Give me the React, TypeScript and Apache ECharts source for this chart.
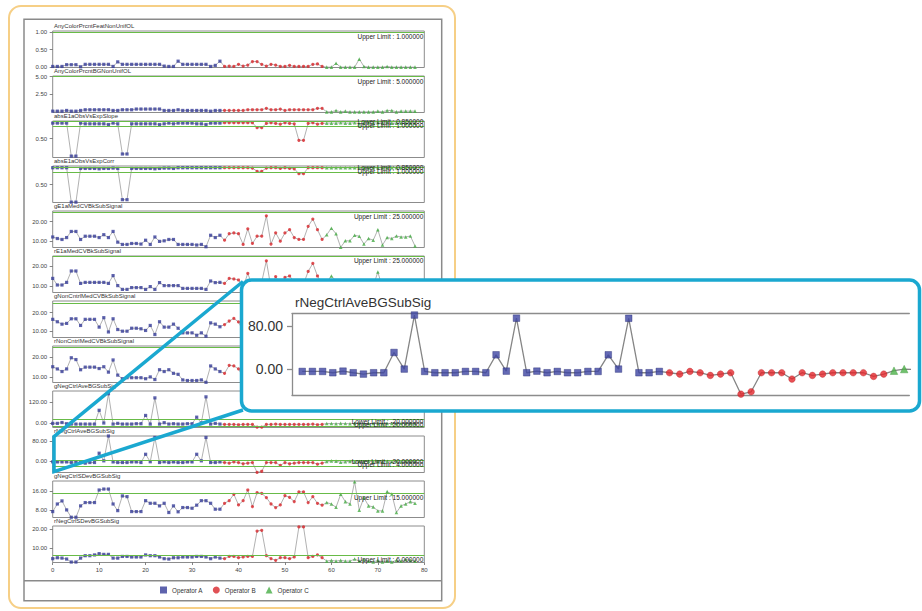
import React, { useEffect, useRef } from "react";
import * as echarts from "echarts";

// ---------- data ----------
const PANEL_TITLES = [
  "AnyColorPrcntFeatNonUnifOL",
  "AnyColorPrcntBGNonUnifOL",
  "absE1aObsVsExpSlope",
  "absE1aObsVsExpCorr",
  "gE1aMedCVBkSubSignal",
  "rE1aMedCVBkSubSignal",
  "gNonCntrlMedCVBkSubSignal",
  "rNonCntrlMedCVBkSubSignal",
  "gNegCtrlAveBGSubSig",
  "rNegCtrlAveBGSubSig",
  "gNegCtrlSDevBGSubSig",
  "rNegCtrlSDevBGSubSig",
];

const OPERATORS = ["Operator A", "Operator B", "Operator C"];
const A_START = 0;
const B_START = 37;
const C_START = 59;

const UPPER_LIMITS = [1, 5, 1, 1, 25, 25, 25, 25, 20, 4, 15, 6];
const LOWER_LIMITS: (number | null)[] = [null, null, 0.85, 0.85, null, null, null, null, -20, -20, null, null];
// limit labels of panels that lie completely under the zoomed callout are not visible
const LIMIT_LABEL_VISIBLE = [true, true, true, true, true, true, false, false, true, true, true, true];
const Y_MIN = [-0.01, -0.09, -0.04, -0.01, 6.5, 6.75, 6.6, 7.2, -26, -47, 4.8, 2.25];
const Y_MAX = [1.03, 5.1, 1.0, 1.03, 25.6, 25, 26.3, 25.5, 186, 100, 20.2, 21.8];
const Y_TICK_LABELS = [[0, 0.5, 1], [2.5, 5], [0.5], [0.5], [10, 20], [10, 20], [10, 20], [10, 20], [0, 120], [0, 80], [8, 16], [10, 20]];

const p1A = [0.02, 0.02, 0.02, 0.07, 0.07, 0.07, 0.01, 0.08, 0.08, 0.08, 0.08, 0.08, 0.08, 0.02, 0.15, 0.08, 0.08, 0.08, 0.08, 0.08, 0.08, 0.08, 0.08, 0.08, 0.03, 0.02, 0.02, 0.17, 0.08, 0.08, 0.08, 0.08, 0.08, 0.08, 0.02, 0.05, 0.17];
const p1B = [0.02, 0.03, 0.02, 0.08, 0.03, 0.06, 0.16, 0.16, 0.08, 0.03, 0.08, 0.06, 0.02, 0.02, 0.05, 0.02, 0.02, 0.02, 0.02, 0.08, 0.09, 0.02];
const p1C = [0.0, 0.0, 0.11, 0.0, 0.0, 0.0, 0.0, 0.23, 0.02, 0.0, 0.0, 0.0, 0.0, 0.02, 0.0, 0.0, 0.0, 0.0, 0.0, 0.0];

const p2A = [0.1, 0.1, 0.1, 0.2, 0.1, 0.1, 0.2, 0.3, 0.3, 0.3, 0.3, 0.3, 0.3, 0.2, 0.2, 0.3, 0.3, 0.3, 0.4, 0.4, 0.4, 0.4, 0.4, 0.4, 0.2, 0.2, 0.2, 0.3, 0.2, 0.2, 0.2, 0.2, 0.2, 0.2, 0.1, 0.2, 0.2];
const p2B = [0.2, 0.2, 0.2, 0.2, 0.2, 0.3, 0.3, 0.3, 0.3, 0.5, 0.3, 0.3, 0.4, 0.2, 0.3, 0.3, 0.3, 0.3, 0.3, 0.3, 0.5, 0.5];
const p2C = [0.0, 0.0, 0.2, 0.0, 0.1, 0.0, 0.0, 0.0, 0.0, 0.0, 0.0, 0.1, 0.0, 0.2, 0.2, 0.0, 0.1, 0.1, 0.1, 0.1];

const p3A = [0.94, 0.94, 0.94, 0.94, 0.0, 0.0, 0.94, 0.92, 0.92, 0.92, 0.92, 0.92, 0.9, 0.94, 0.92, 0.06, 0.06, 0.92, 0.92, 0.92, 0.92, 0.92, 0.92, 0.9, 0.92, 0.94, 0.92, 0.94, 0.94, 0.94, 0.94, 0.92, 0.92, 0.9, 0.94, 0.94, 0.94];
const p3B = [0.95, 0.95, 0.95, 0.95, 0.95, 0.95, 0.95, 0.81, 0.81, 0.93, 0.95, 0.93, 0.91, 0.95, 0.93, 0.92, 0.45, 0.45, 0.93, 0.95, 0.91, 0.93];
const p3C = [0.94, 0.94, 0.94, 0.95, 0.94, 0.94, 0.95, 0.92, 0.94, 0.95, 0.94, 0.95, 0.94, 0.95, 0.94, 0.94, 0.94, 0.94, 0.94, 0.94];

const p4A = [0.98, 0.98, 0.98, 0.98, 0.0, 0.0, 0.96, 0.96, 0.96, 0.96, 0.95, 0.96, 0.96, 0.97, 0.96, 0.07, 0.07, 0.96, 0.96, 0.96, 0.96, 0.96, 0.95, 0.96, 0.97, 0.97, 0.96, 0.98, 0.98, 0.98, 0.98, 0.98, 0.98, 0.98, 0.98, 0.98, 0.98];
const p4B = [0.98, 0.98, 0.98, 0.98, 0.98, 0.98, 0.97, 0.88, 0.88, 0.97, 0.98, 0.98, 0.96, 0.98, 0.96, 0.95, 0.81, 0.81, 0.98, 0.98, 0.98, 0.98];
const p4C = [0.98, 0.98, 0.98, 0.98, 0.98, 0.98, 0.98, 0.98, 0.97, 0.98, 0.98, 0.98, 0.98, 0.98, 0.98, 0.98, 0.98, 0.98, 0.98, 0.98];

const p5A = [12, 11.2, 10.7, 11.7, 14.9, 14.9, 10.7, 12.4, 12.4, 12.4, 11.7, 13.2, 11.7, 14.9, 9.3, 8.1, 8.1, 8.6, 8.6, 8.3, 10.3, 8.1, 12, 9.7, 10, 10.7, 10.7, 8.1, 8.1, 8.1, 8.1, 7.8, 8.1, 6.9, 12.9, 11.7, 12.9];
const p5B = [10.3, 13.7, 14.1, 13.7, 8.1, 16.3, 8.6, 12.4, 12.4, 23.1, 8.3, 14.2, 9.8, 14.1, 15.8, 11.7, 10.7, 10.7, 17.6, 21.4, 15.8, 10.7];
const p5C = [13.2, 16.6, 13.7, 6.6, 10, 10, 12.9, 12.4, 8.3, 11.2, 10.3, 15.8, 7.8, 11.7, 11.2, 12.5, 12, 12, 12.5, 7.3];

const p6A = [13.8, 10.5, 10.5, 11.8, 17.5, 17.5, 11.3, 11.8, 11.8, 11.8, 11.8, 11.8, 11.3, 15.2, 10.2, 8.3, 8.3, 9.2, 9.2, 9.2, 8.3, 9.7, 8.3, 11.7, 10.2, 10.2, 10.2, 10.2, 8.8, 8.8, 8.8, 8.8, 8.8, 8.3, 12.5, 11.7, 11.8];
const p6B = [11.3, 13.8, 13.5, 13, 9.5, 16.3, 10, 12.5, 12, 22.6, 9, 14.7, 11, 14.3, 15, 12, 11, 11, 17.3, 21.3, 15, 11];
const p6C = [12, 15, 12.5, 8, 10, 10, 12, 11.5, 9, 11, 10, 17, 9, 11.5, 11, 12, 11.5, 11.5, 12, 9];

const p7A = [16.4, 15.1, 13.8, 14.2, 16.7, 16.7, 13.1, 16.4, 16.4, 16.4, 12.2, 17.3, 9.6, 16.7, 10.9, 10, 10, 11.6, 11.6, 11.3, 10.4, 13.1, 8.2, 15.1, 12.2, 12.2, 13.8, 11.6, 9.1, 9.1, 9.1, 7.8, 9.1, 7.3, 14.5, 13.8, 12.4];
const p7B = [13.6, 15.5, 16.9, 15, 10, 17, 10.5, 13, 12.5, 22, 10, 15, 12, 15, 16, 12, 11.5, 11.5, 18, 21, 16, 12];
const p7C = [13, 17, 14, 9, 11, 11, 13, 12, 9.5, 12, 10, 17, 9, 12, 11.5, 12.5, 12, 12, 12.5, 9];

const p8A = [15.1, 14, 12.7, 14, 19.6, 18.7, 13.6, 14.9, 14.9, 14.9, 14.2, 15.1, 12.4, 18.5, 10.9, 9.1, 9.6, 9.6, 9.6, 9.6, 9.1, 10, 8.7, 13.6, 12.7, 13.6, 11.8, 11.3, 8.5, 8.2, 8.2, 8.2, 8.5, 7.3, 15.5, 14, 12.7];
const p8B = [11.8, 15.8, 15.5, 14, 10, 17.5, 10.5, 13, 13, 23, 9.5, 15, 11.5, 15, 16, 12.5, 11, 11, 18, 22, 15.5, 11.5];
const p8C = [12.5, 15.5, 13, 8.5, 10.5, 10.5, 12.5, 12, 9, 11.5, 10, 17, 9, 12, 11.5, 12.5, 12, 12, 12.5, 9];

const p9A = [-2, -2, 3, -4, -6, -6, -6, -6, -6, -6, 74, 0, 170, -6, -2, -6, -6, -6, -4, -4, 44, -6, 146, -6, 2, -6, -4, -6, -6, -4, -4, 34, 0, 152, -6, -2, -6];
const p9B = [-8, -8, -8, -10, -8, -8, -8, -24, -24, -8, -8, -6, -8, -8, -8, -8, -8, -8, -8, -6, -10, -8];
const p9C = [-3, -3, -4, -2, -3, -4, -2, -3, -4, -2, -3, -3, -4, -2, -3, -4, -2, -3, -3, -3];

const p10A = [-4, -4.4, -4.4, -4.4, -6.8, -3.8, -6.8, -9.3, -6.8, -6.8, 30.7, 0, 100, -4.4, -6.8, -6.8, -6.8, -4.4, -4.4, -6.8, 26.4, -3.8, 94.2, -6.8, -3.8, -6.8, -4.4, -6.8, -6.8, -4.4, -4.4, 26.4, 0, 94, -6.8, -6.8, -4.4];
const p10B = [-6.8, -9.3, -4.4, -6.8, -11.8, -9.3, -6.8, -46.5, -42, -6.8, -6.8, -6.8, -18.5, -6.8, -11.8, -9.3, -6.8, -6.8, -6.8, -6.8, -13.6, -9.3];
const p10C = [-3, 0, -1, -6, -4, -2, -5, -3, -4, -2, -4, -3, -5, -2, -4, -3, -5, -3, -4, -3];

const p11A = [7.3, 10.5, 11.8, 8, 4.9, 4.9, 9.7, 11.1, 11.1, 11.1, 16.4, 16.8, 16.8, 10.5, 7.7, 13.9, 13.6, 7.3, 7.3, 7.3, 11.9, 10.8, 10.8, 9.7, 10.8, 6.9, 9.7, 7.2, 9, 9, 8.7, 10, 11.9, 11.9, 10.8, 8.3, 8.3];
const p11B = [10.8, 11.9, 14.6, 10.1, 11.9, 16.4, 9.4, 15.3, 15, 13.2, 10.5, 9, 10.1, 14, 13.3, 11.5, 15.6, 15.6, 11.1, 13.6, 10.8, 10];
const p11C = [11.1, 10.5, 9.1, 14.6, 11.5, 10.5, 19.9, 7.9, 13.2, 9.7, 9.3, 7.6, 7.6, 15.7, 14.7, 6.9, 9.7, 10.5, 11.5, 10.8];

const p12A = [4.3, 4.8, 4.6, 4.1, 2.5, 2.5, 4.6, 5.9, 5.9, 6.3, 7, 6.6, 6.6, 4.6, 4.6, 5.5, 5.5, 5.2, 5.2, 5.2, 6.3, 5.9, 5.9, 5.2, 4.3, 4.1, 4.8, 4.8, 5.2, 5.2, 5.2, 5.5, 5.5, 5.2, 4.3, 5.2, 4.6];
const p12B = [4.3, 5.5, 5.5, 4.8, 5.2, 5.5, 5.5, 19.1, 19.5, 5.9, 4.3, 3.4, 4.8, 4.8, 4.3, 5.2, 21.3, 21.3, 4.8, 5.5, 6.3, 4.8];
const p12C = [3, 3.4, 3, 3.4, 3, 3, 4.1, 3, 3.8, 3, 2.5, 3.4, 2.5, 3, 2.5, 3.4, 3, 3.8, 3.4, 3];

const A_VALUES = [p1A, p2A, p3A, p4A, p5A, p6A, p7A, p8A, p9A, p10A, p11A, p12A];
const B_VALUES = [p1B, p2B, p3B, p4B, p5B, p6B, p7B, p8B, p9B, p10B, p11B, p12B];
const C_VALUES = [p1C, p2C, p3C, p4C, p5C, p6C, p7C, p8C, p9C, p10C, p11C, p12C];

// zoomed callout
const CALLOUT_PANEL = 9;
const CALLOUT_X_MAX = 60.5;
const CALLOUT_Y_MIN = -48;
const CALLOUT_Y_MAX = 102.5;
const CALLOUT_TICK_LABELS = [0, 80];

// ---------- styles ----------
const FONT = "Liberation Sans, Arial, Helvetica, sans-serif";
const BLUE = "#363c98";
const RED = "#d8262b";
const GREEN = "#46ad45";
const LIMIT_GREEN = "#68bb47";
const LINE_GRAY = "#8f8f8f";
const CYAN = "#1aa8d0";

const PLOT_LEFT = 52.7;
const PLOT_WIDTH = 371.6;
const TOP0 = 31;
const PITCH = 45;
const PANEL_H = 36.5;

const pts = (arr: number[], start: number) => arr.map((v, i) => [start + i, v]);
const fmt2 = (v: number) => Number(v).toFixed(2);

function buildOption() {
  const grids: any[] = [];
  const xAxes: any[] = [];
  const yAxes: any[] = [];
  const series: any[] = [];
  const titles: any[] = [];

  PANEL_TITLES.forEach((name, k) => {
    const top = TOP0 + PITCH * k;
    const last = k === PANEL_TITLES.length - 1;
    grids.push({
      left: PLOT_LEFT, top, width: PLOT_WIDTH, height: PANEL_H,
      show: true, borderColor: "#8c8c8c", borderWidth: 1, backgroundColor: "transparent",
    });
    titles.push({
      text: name, left: 54, top: top - 8, padding: 0,
      textStyle: { fontSize: 6, fontWeight: "normal", color: "#333", fontFamily: FONT },
    });
    xAxes.push({
      type: "value", gridIndex: k, min: 0, max: 80, interval: 10,
      splitLine: { show: false },
      axisLine: { show: false, onZero: false },
      axisTick: { show: last, length: 2.5, lineStyle: { color: "#666", width: 0.8 } },
      axisLabel: { show: last, fontSize: 6, color: "#444", margin: 4, fontFamily: FONT },
    });
    yAxes.push({
      type: "value", gridIndex: k, min: Y_MIN[k], max: Y_MAX[k],
      splitLine: { show: false },
      axisLine: { show: false, onZero: false },
      axisTick: { show: true, length: 3, customValues: Y_TICK_LABELS[k], lineStyle: { color: "#666", width: 0.8 } },
      axisLabel: { customValues: Y_TICK_LABELS[k], formatter: fmt2, fontSize: 6, color: "#444", margin: 5.5, fontFamily: FONT },
    });

    const showLbl = LIMIT_LABEL_VISIBLE[k];
    const mlData: any[] = [
      {
        yAxis: UPPER_LIMITS[k],
        label: {
          show: showLbl, position: "insideEndBottom", distance: [1, 1],
          formatter: "Upper Limit : " + UPPER_LIMITS[k].toFixed(6),
          fontSize: 6.5, color: "#222", fontFamily: FONT,
        },
      },
    ];
    const lo = LOWER_LIMITS[k];
    if (lo !== null) {
      mlData.push({
        yAxis: lo,
        label: {
          show: showLbl, position: "insideEndTop", distance: [1, 1],
          formatter: "Lower Limit : " + lo.toFixed(6),
          fontSize: 6.5, color: "#222", fontFamily: FONT,
        },
      });
    }

    series.push({
      type: "line", name: "trend" + k, xAxisIndex: k, yAxisIndex: k,
      data: [...pts(A_VALUES[k], A_START), ...pts(B_VALUES[k], B_START), ...pts(C_VALUES[k], C_START)],
      symbol: "none", showSymbol: false, silent: true, z: 2,
      lineStyle: { color: LINE_GRAY, width: 0.7 },
      markLine: {
        silent: true, symbol: "none", animation: false,
        lineStyle: { color: LIMIT_GREEN, width: 1, type: "solid" },
        data: mlData,
      },
    });
    const sets: [number[], number, string, string][] = [
      [A_VALUES[k], A_START, "rect", BLUE],
      [B_VALUES[k], B_START, "circle", RED],
      [C_VALUES[k], C_START, "triangle", GREEN],
    ];
    sets.forEach(([vals, start, sym, col], j) => {
      series.push({
        type: "scatter", name: OPERATORS[j], xAxisIndex: k, yAxisIndex: k,
        data: pts(vals, start), symbol: sym, symbolSize: j === 2 ? 3.6 : 3.2,
        itemStyle: { color: col }, silent: true, z: 3,
      });
    });
  });

  // ---- callout (zoomed view of rNegCtrlAveBGSubSig) ----
  const cg = grids.length;
  grids.push({ left: 292, top: 313.7, width: 617.3, height: 81.3, show: false });
  const cx = xAxes.length;
  const baseX = {
    type: "value", gridIndex: cg, min: 0, max: CALLOUT_X_MAX, z: 105,
    splitLine: { show: false },
    axisLine: { show: true, onZero: false, lineStyle: { color: "#8c8c8c", width: 1.3 } },
    axisTick: { show: false }, axisLabel: { show: false },
  };
  xAxes.push({ ...baseX, position: "bottom" });
  xAxes.push({ ...baseX, position: "top" });
  const cy = yAxes.length;
  yAxes.push({
    type: "value", gridIndex: cg, min: CALLOUT_Y_MIN, max: CALLOUT_Y_MAX, z: 105,
    splitLine: { show: false },
    axisLine: { show: true, onZero: false, lineStyle: { color: "#8c8c8c", width: 1.3 } },
    axisTick: { show: true, length: 5, customValues: CALLOUT_TICK_LABELS, lineStyle: { color: "#8c8c8c", width: 1.3 } },
    axisLabel: { customValues: CALLOUT_TICK_LABELS, formatter: fmt2, fontSize: 14, color: "#333", margin: 9, fontFamily: FONT },
  });
  titles.push({
    text: PANEL_TITLES[CALLOUT_PANEL], left: 295, top: 295.5, padding: 0, z: 120,
    textStyle: { fontSize: 13.5, fontWeight: "normal", color: "#333", fontFamily: FONT },
  });
  const cA = A_VALUES[CALLOUT_PANEL].slice(1);
  const cB = B_VALUES[CALLOUT_PANEL];
  const cC = C_VALUES[CALLOUT_PANEL];
  series.push({
    type: "line", name: "calloutTrend", xAxisIndex: cx, yAxisIndex: cy,
    data: [...pts(cA, A_START + 1), ...pts(cB, B_START), ...pts(cC, C_START)],
    symbol: "none", showSymbol: false, silent: true, z: 110, clip: true,
    lineStyle: { color: "#858585", width: 1.3 },
    markLine: {
      silent: true, symbol: "none", animation: false,
      lineStyle: { color: "#7cc95a", width: 1.6, type: "solid" },
      label: { show: false },
      data: [{ yAxis: UPPER_LIMITS[CALLOUT_PANEL] }, { yAxis: LOWER_LIMITS[CALLOUT_PANEL] as number }],
    },
  });
  const cSets: [number[], number, string, string, string][] = [
    [cA, A_START + 1, "rect", "#3d45a3", "#262b74"],
    [cB, B_START, "circle", "#e3262b", "#b81e22"],
    [cC, C_START, "triangle", "#4db34a", "#3a9337"],
  ];
  cSets.forEach(([vals, start, sym, col, bcol], j) => {
    series.push({
      type: "scatter", name: OPERATORS[j], xAxisIndex: cx, yAxisIndex: cy,
      data: pts(vals, start), symbol: sym, symbolSize: j === 2 ? 7.5 : 6.6, clip: true,
      itemStyle: { color: col, borderColor: bcol, borderWidth: 0.5 }, silent: true, z: 112,
    });
  });

  return {
    animation: false,
    backgroundColor: "#ffffff",
    textStyle: { fontFamily: FONT },
    title: titles,
    legend: {
      data: OPERATORS, left: 160, top: 586.5, padding: 0,
      itemWidth: 7, itemHeight: 7, itemGap: 10, selectedMode: false,
      textStyle: { fontSize: 6.3, color: "#333", fontFamily: FONT },
    },
    grid: grids,
    xAxis: xAxes,
    yAxis: yAxes,
    series,
    graphic: [
      { type: "rect", silent: true, z: 0, shape: { x: 9, y: 6, width: 446, height: 602, r: 12 }, style: { fill: "none", stroke: "#f6cf86", lineWidth: 2 } },
      { type: "rect", silent: true, z: 0, shape: { x: 24, y: 19.3, width: 417.7, height: 581.4 }, style: { fill: "none", stroke: "#8a8a8a", lineWidth: 1.5 } },
      { type: "line", silent: true, z: 0, shape: { x1: 24, y1: 580.7, x2: 441.7, y2: 580.7 }, style: { stroke: "#8a8a8a", lineWidth: 1.5 } },
      { type: "polyline", silent: true, z: 100, shape: { points: [[243, 281.5], [54, 436.7], [54, 471.7], [243, 410]] }, style: { fill: "none", stroke: CYAN, lineWidth: 3.5 } },
      { type: "rect", silent: true, z: 100, shape: { x: 241.5, y: 280, width: 678, height: 131, r: 10 }, style: { fill: "#ffffff", stroke: CYAN, lineWidth: 3.5 } },
    ],
  };
}

export default function App() {
  const ref = useRef<HTMLDivElement | null>(null);
  useEffect(() => {
    document.body.style.margin = "0";
    if (!ref.current) return;
    const chart = echarts.init(ref.current, null, { renderer: "svg" });
    chart.setOption(buildOption() as any);
    return () => chart.dispose();
  }, []);
  return <div ref={ref} style={{ width: 922, height: 611 }} />;
}
